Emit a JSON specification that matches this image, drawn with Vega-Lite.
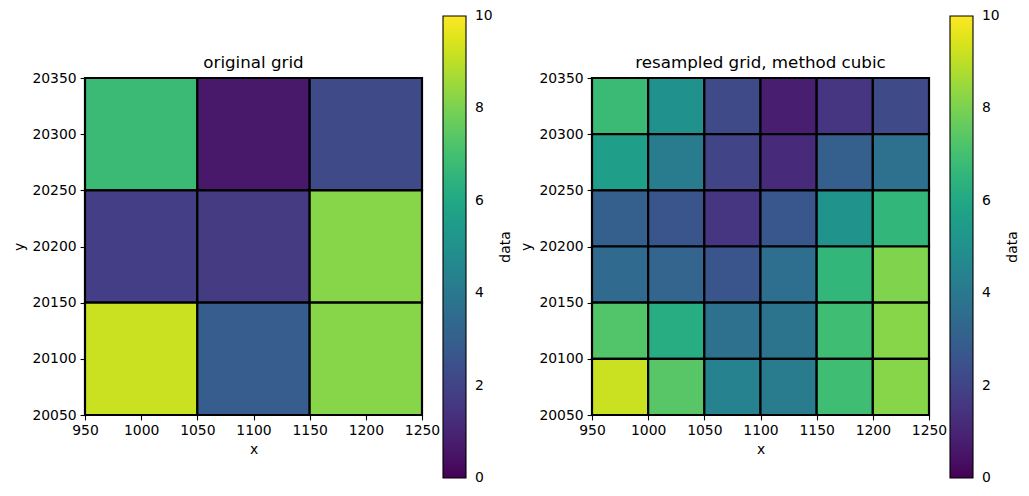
{
  "$schema": "https://vega.github.io/schema/vega-lite/v6.json",
  "autosize": "pad",
  "padding": {"left": 12, "top": 16, "right": 0, "bottom": 0},
  "background": "white",
  "config": {
    "font": "DejaVu Sans",
    "view": {"stroke": null},
    "axis": {
      "grid": false,
      "domainColor": "black",
      "domainWidth": 1.1,
      "tickColor": "black",
      "tickWidth": 1.1,
      "tickSize": 4.9,
      "labelFontSize": 13.9,
      "labelColor": "black",
      "labelPadding": 4,
      "titleFontSize": 13.9,
      "titleFontWeight": "normal",
      "titleColor": "black",
      "titlePadding": 5,
      "labelFlush": false
    },
    "title": {"fontSize": 16.7, "fontWeight": "normal", "color": "black", "offset": -56}
  },
  "datasets": {
    "orig": [
      {"x0": 950, "x1": 1050, "y0": 20250, "y1": 20350, "v": 6.8},
      {"x0": 1050, "x1": 1150, "y0": 20250, "y1": 20350, "v": 0.6},
      {"x0": 1150, "x1": 1250, "y0": 20250, "y1": 20350, "v": 2.2},
      {"x0": 950, "x1": 1050, "y0": 20150, "y1": 20250, "v": 1.8},
      {"x0": 1050, "x1": 1150, "y0": 20150, "y1": 20250, "v": 1.7},
      {"x0": 1150, "x1": 1250, "y0": 20150, "y1": 20250, "v": 8.2},
      {"x0": 950, "x1": 1050, "y0": 20050, "y1": 20150, "v": 9.2},
      {"x0": 1050, "x1": 1150, "y0": 20050, "y1": 20150, "v": 2.9},
      {"x0": 1150, "x1": 1250, "y0": 20050, "y1": 20150, "v": 8.2}
    ],
    "res": [
      {"x0": 950, "x1": 1000, "y0": 20300, "y1": 20350, "v": 6.8},
      {"x0": 1000, "x1": 1050, "y0": 20300, "y1": 20350, "v": 5.0},
      {"x0": 1050, "x1": 1100, "y0": 20300, "y1": 20350, "v": 2.2},
      {"x0": 1100, "x1": 1150, "y0": 20300, "y1": 20350, "v": 0.8},
      {"x0": 1150, "x1": 1200, "y0": 20300, "y1": 20350, "v": 1.5},
      {"x0": 1200, "x1": 1250, "y0": 20300, "y1": 20350, "v": 2.2},
      {"x0": 950, "x1": 1000, "y0": 20250, "y1": 20300, "v": 5.6},
      {"x0": 1000, "x1": 1050, "y0": 20250, "y1": 20300, "v": 4.1},
      {"x0": 1050, "x1": 1100, "y0": 20250, "y1": 20300, "v": 2.0},
      {"x0": 1100, "x1": 1150, "y0": 20250, "y1": 20300, "v": 1.2},
      {"x0": 1150, "x1": 1200, "y0": 20250, "y1": 20300, "v": 3.0},
      {"x0": 1200, "x1": 1250, "y0": 20250, "y1": 20300, "v": 3.7},
      {"x0": 950, "x1": 1000, "y0": 20200, "y1": 20250, "v": 3.0},
      {"x0": 1000, "x1": 1050, "y0": 20200, "y1": 20250, "v": 2.6},
      {"x0": 1050, "x1": 1100, "y0": 20200, "y1": 20250, "v": 1.5},
      {"x0": 1100, "x1": 1150, "y0": 20200, "y1": 20250, "v": 2.7},
      {"x0": 1150, "x1": 1200, "y0": 20200, "y1": 20250, "v": 5.1},
      {"x0": 1200, "x1": 1250, "y0": 20200, "y1": 20250, "v": 6.6},
      {"x0": 950, "x1": 1000, "y0": 20150, "y1": 20200, "v": 3.4},
      {"x0": 1000, "x1": 1050, "y0": 20150, "y1": 20200, "v": 3.2},
      {"x0": 1050, "x1": 1100, "y0": 20150, "y1": 20200, "v": 2.6},
      {"x0": 1100, "x1": 1150, "y0": 20150, "y1": 20200, "v": 3.6},
      {"x0": 1150, "x1": 1200, "y0": 20150, "y1": 20200, "v": 6.6},
      {"x0": 1200, "x1": 1250, "y0": 20150, "y1": 20200, "v": 8.1},
      {"x0": 950, "x1": 1000, "y0": 20100, "y1": 20150, "v": 7.3},
      {"x0": 1000, "x1": 1050, "y0": 20100, "y1": 20150, "v": 6.2},
      {"x0": 1050, "x1": 1100, "y0": 20100, "y1": 20150, "v": 3.7},
      {"x0": 1100, "x1": 1150, "y0": 20100, "y1": 20150, "v": 3.8},
      {"x0": 1150, "x1": 1200, "y0": 20100, "y1": 20150, "v": 6.9},
      {"x0": 1200, "x1": 1250, "y0": 20100, "y1": 20150, "v": 8.2},
      {"x0": 950, "x1": 1000, "y0": 20050, "y1": 20100, "v": 9.2},
      {"x0": 1000, "x1": 1050, "y0": 20050, "y1": 20100, "v": 7.4},
      {"x0": 1050, "x1": 1100, "y0": 20050, "y1": 20100, "v": 4.4},
      {"x0": 1100, "x1": 1150, "y0": 20050, "y1": 20100, "v": 4.1},
      {"x0": 1150, "x1": 1200, "y0": 20050, "y1": 20100, "v": 6.9},
      {"x0": 1200, "x1": 1250, "y0": 20050, "y1": 20100, "v": 8.2}
    ]
  },
  "spacing": 170,
  "bounds": "flush",
  "resolve": {"scale": {"color": "independent"}},
  "hconcat": [
    {
      "title": "original grid",
      "width": 337,
      "height": 337,
      "data": {"name": "orig"},
      "mark": {"type": "rect", "stroke": "black", "strokeWidth": 2.2},
      "encoding": {
        "x": {"field": "x0", "type": "quantitative", "title": "x",
              "scale": {"domain": [950, 1250], "nice": false, "zero": false},
              "axis": {"values": [950, 1000, 1050, 1100, 1150, 1200, 1250], "format": "d"}},
        "x2": {"field": "x1"},
        "y": {"field": "y0", "type": "quantitative", "title": "y",
              "scale": {"domain": [20050, 20350], "nice": false, "zero": false},
              "axis": {"values": [20050, 20100, 20150, 20200, 20250, 20300, 20350], "format": "d"}},
        "y2": {"field": "y1"},
        "color": {"field": "v", "type": "quantitative", "title": "data",
                  "scale": {"scheme": "viridis", "domain": [0, 10]},
                  "legend": {
                    "orient": "none", "legendX": 358, "legendY": -62, "padding": 0,
                    "gradientLength": 462, "gradientThickness": 23,
                    "gradientStrokeColor": "black", "gradientStrokeWidth": 1.1,
                    "values": [0, 2, 4, 6, 8, 10], "format": "d",
                    "labelFontSize": 13.9, "labelColor": "black", "labelOffset": 9,
                    "labelBaseline": "middle",
                    "titleFontSize": 13.9, "titleFontWeight": "normal", "titleColor": "black",
                    "titleOrient": "right", "titleAnchor": "middle",
                    "titlePadding": 20,
                    "encode": {
                      "labels": {"update": {"baseline": {"value": "middle"}}},
                      "title": {"update": {"angle": {"value": 270}}}
                    }
                  }}
      }
    },
    {
      "title": "resampled grid, method cubic",
      "width": 337,
      "height": 337,
      "data": {"name": "res"},
      "mark": {"type": "rect", "stroke": "black", "strokeWidth": 2.2},
      "encoding": {
        "x": {"field": "x0", "type": "quantitative", "title": "x",
              "scale": {"domain": [950, 1250], "nice": false, "zero": false},
              "axis": {"values": [950, 1000, 1050, 1100, 1150, 1200, 1250], "format": "d"}},
        "x2": {"field": "x1"},
        "y": {"field": "y0", "type": "quantitative", "title": "y",
              "scale": {"domain": [20050, 20350], "nice": false, "zero": false},
              "axis": {"values": [20050, 20100, 20150, 20200, 20250, 20300, 20350], "format": "d"}},
        "y2": {"field": "y1"},
        "color": {"field": "v", "type": "quantitative", "title": "data",
                  "scale": {"scheme": "viridis", "domain": [0, 10]},
                  "legend": {
                    "orient": "none", "legendX": 358, "legendY": -62, "padding": 0,
                    "gradientLength": 462, "gradientThickness": 23,
                    "gradientStrokeColor": "black", "gradientStrokeWidth": 1.1,
                    "values": [0, 2, 4, 6, 8, 10], "format": "d",
                    "labelFontSize": 13.9, "labelColor": "black", "labelOffset": 9,
                    "labelBaseline": "middle",
                    "titleFontSize": 13.9, "titleFontWeight": "normal", "titleColor": "black",
                    "titleOrient": "right", "titleAnchor": "middle",
                    "titlePadding": 20,
                    "encode": {
                      "labels": {"update": {"baseline": {"value": "middle"}}},
                      "title": {"update": {"angle": {"value": 270}}}
                    }
                  }}
      }
    }
  ]
}
